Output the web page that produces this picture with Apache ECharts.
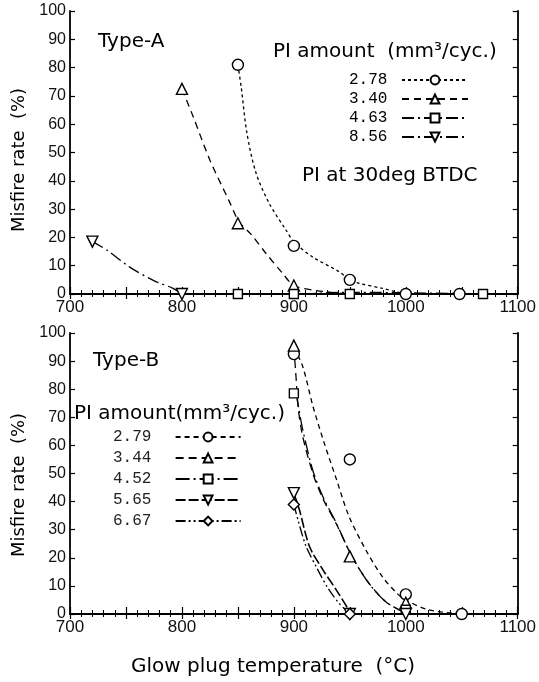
<!DOCTYPE html>
<html><head><meta charset="utf-8">
<script src="https://cdn.jsdelivr.net/npm/echarts@6/dist/echarts.min.js"></script>
<style>html,body{margin:0;padding:0;background:#fff}#c{width:539px;height:682px}</style>
</head><body><div id="c"></div>
<script>
// ---- axis ranges / ticks ----
const xMin = 700, xMax = 1100, xLabelStep = 100, xTickStep = 50;
const yMin = 0, yMax = 100, yStep = 10;

// ---- Type-A (top panel), PI amount (mm3/cyc.) ----
const topNames = ['2.78', '3.40', '4.63', '8.56'];
// measured points (markers)
const a278X = [850, 900, 950, 1000, 1048];
const a278Y = [81, 17, 5, 0, 0];
const a340X = [800, 850, 900];
const a340Y = [72.5, 25, 3];
const a463X = [850, 900, 950, 1069];
const a463Y = [0, 0, 0, 0];
const a856X = [720, 800];
const a856Y = [18.5, 0];
// fitted curves
const a278CurveX = [850, 853, 858, 866, 878, 893, 900, 917, 940, 950, 958, 979, 991, 1000];
const a278CurveY = [81, 73, 57, 43, 32, 22.6, 18.5, 13, 8, 5, 3.8, 2, 0.8, 0];
const a340CurveX = [800, 810, 825, 842, 851, 862, 875, 890, 900, 920, 950];
const a340CurveY = [72.5, 62.7, 47.3, 33, 25.5, 21, 14.4, 7.3, 3, 1.2, 0];
const a463CurveX = [850, 900, 950, 1069];
const a463CurveY = [0, 0, 0.6, 0];
const a856CurveX = [720, 733, 753, 774, 792, 800];
const a856CurveY = [18.5, 15.5, 9.6, 4.9, 2, 0];

// ---- Type-B (bottom panel) ----
const botNames = ['2.79', '3.44', '4.52', '5.65', '6.67'];
const b279X = [900, 950, 1000, 1050];
const b279Y = [92.5, 55, 7, 0];
const b344X = [900, 950, 1000];
const b344Y = [95.5, 20.5, 4];
const b452X = [900, 1000];
const b452Y = [78.5, 1.5];
const b565X = [900, 950, 1000];
const b565Y = [43, 0, 0];
const b667X = [900, 950];
const b667Y = [39, 0];
const b279CurveX = [900, 908, 917, 927, 938, 949, 964, 979, 992, 1000, 1020, 1050];
const b279CurveY = [95, 88, 74, 61, 48, 35, 23, 13.3, 7.4, 5, 1.5, 0];
const b344CurveX = [900, 902, 904, 908, 917, 926, 938, 952, 967, 982, 997, 1000];
const b344CurveY = [95, 84, 73, 63, 50, 41, 32, 20.4, 11, 4.4, 0.8, 0];
const b452CurveX = [902, 904, 908, 917, 926, 938, 952, 967, 982, 997, 1000];
const b452CurveY = [78.5, 74, 65.5, 51, 41.7, 32.3, 20.4, 10.9, 4.4, 0.8, 0];
const b565CurveX = [900, 905, 914, 926, 938, 949, 950];
const b565CurveY = [43, 37, 24, 15.7, 8.5, 1.4, 0];
const b667CurveX = [900, 904, 911, 920, 930, 940, 950];
const b667CurveY = [39, 33, 24, 16.8, 9.5, 4, 0];

const zip = (xs, ys) => xs.map((x, i) => [x, ys[i]]);
const DOWN_TRI = 'path://M0,0L20,0L10,18Z';
const FONT = 'DejaVu Sans';
const NUMFONT = 'Liberation Sans';

// one dataset = fitted curve (line) + measured points (markers), same legend name
function dataset(name, cx, cy, mx, my, symbol, size, dash, gi, width) {
  const ax = gi * 2;
  const item = { color: '#fff', borderColor: '#000', borderWidth: 1.4, opacity: 1 };
  return [
    { name, type: 'line', xAxisIndex: ax, yAxisIndex: ax, data: zip(cx, cy),
      smooth: 0.3, symbol, symbolSize: size, showSymbol: false,
      lineStyle: { color: '#000', width: width || 1.3, type: dash },
      itemStyle: item, emphasis: { disabled: true }, z: 2 },
    { name, type: 'scatter', xAxisIndex: ax, yAxisIndex: ax, data: zip(mx, my),
      symbol, symbolSize: size, itemStyle: item, emphasis: { disabled: true }, z: 4 }
  ];
}

function xAxes(gi) {
  const base = {
    type: 'value', gridIndex: gi, min: xMin, max: xMax, interval: xTickStep,
    axisLine: { show: true, lineStyle: { color: '#000', width: 1.8 } },
    axisTick: { show: true, inside: true, length: 7, lineStyle: { color: '#000', width: 1.2 } },
    minorTick: { show: true, splitNumber: 5, length: 4, lineStyle: { color: '#000', width: 1 } },
    splitLine: { show: false }
  };
  return [
    Object.assign({}, base, { position: 'bottom',
      axisLabel: { show: true, margin: 5, color: '#111', fontSize: 17, fontFamily: NUMFONT,
        formatter: v => (v % xLabelStep === 0 ? String(v) : '') } }),
    Object.assign({}, base, { position: 'top', axisLabel: { show: false },
      axisTick: { show: true, inside: true, length: 5, lineStyle: { color: '#000', width: 1.2 } },
      minorTick: { show: true, splitNumber: 5, length: 3, lineStyle: { color: '#000', width: 1 } } })
  ];
}
function yAxes(gi) {
  const base = {
    type: 'value', gridIndex: gi, min: yMin, max: yMax, interval: yStep,
    axisLine: { show: true, lineStyle: { color: '#000', width: 1.8 } },
    axisTick: { show: true, inside: true, length: 5, lineStyle: { color: '#000', width: 1.2 } },
    splitLine: { show: false }
  };
  return [
    Object.assign({}, base, { position: 'left',
      axisLabel: { show: true, margin: 4, color: '#111', fontSize: 16, fontFamily: NUMFONT } }),
    Object.assign({}, base, { position: 'right', axisLabel: { show: false } })
  ];
}

function txt(text, x, y, size, align) {
  return { type: 'text', x, y, silent: true,
    style: { text, font: size + 'px ' + FONT, fill: '#000', align: align || 'left', verticalAlign: 'middle' } };
}
function vtxt(text, x, y, size) {
  return { type: 'text', x, y, rotation: Math.PI / 2, silent: true,
    style: { text, font: size + 'px ' + FONT, fill: '#000', align: 'center', verticalAlign: 'middle' } };
}

const chart = echarts.init(document.getElementById('c'), null, { renderer: 'canvas' });
chart.setOption({
  backgroundColor: '#fff',
  animation: false,
  grid: [
    { left: 70, right: 20, top: 11, bottom: 388 },
    { left: 70, right: 19, top: 333, bottom: 68 }
  ],
  xAxis: [...xAxes(0), ...xAxes(1)],
  yAxis: [...yAxes(0), ...yAxes(1)],
  legend: [
    { data: topNames, orient: 'vertical', align: 'right', left: 344, top: 67,
      itemWidth: 66, itemHeight: 11, itemGap: 3, selectedMode: false,
      formatter: n => n + ' ',
      textStyle: { fontFamily: 'Liberation Mono', fontSize: 16, lineHeight: 16, color: '#000' } },
    { data: botNames, orient: 'vertical', align: 'right', left: 108, top: 424,
      itemWidth: 65, itemHeight: 11, itemGap: 5, selectedMode: false,
      formatter: n => n + '  ',
      textStyle: { fontFamily: 'Liberation Mono', fontSize: 16, lineHeight: 16, color: '#222' } }
  ],
  series: [
    ...dataset('2.78', a278CurveX, a278CurveY, a278X, a278Y, 'circle', 11, [3, 3], 0),
    ...dataset('3.40', a340CurveX, a340CurveY, a340X, a340Y, 'triangle', 11, [7, 5], 0),
    ...dataset('4.63', a463CurveX, a463CurveY, a463X, a463Y, 'rect', 9, [12, 4, 2, 4], 0),
    ...dataset('8.56', a856CurveX, a856CurveY, a856X, a856Y, DOWN_TRI, 11, [12, 4, 2, 4], 0),
    ...dataset('2.79', b279CurveX, b279CurveY, b279X, b279Y, 'circle', 11, [5, 4], 1),
    ...dataset('3.44', b344CurveX, b344CurveY, b344X, b344Y, 'triangle', 11, [8, 5], 1),
    ...dataset('4.52', b452CurveX, b452CurveY, b452X, b452Y, 'rect', 9, [14, 4, 2, 4], 1),
    ...dataset('5.65', b565CurveX, b565CurveY, b565X, b565Y, DOWN_TRI, 11, [10, 3], 1, 1.6),
    ...dataset('6.67', b667CurveX, b667CurveY, b667X, b667Y, 'diamond', 11, [10, 3, 2, 3, 2, 3], 1)
  ],
  graphic: [
    txt('Type-A', 98, 42, 20),
    txt('PI amount  (mm\u00b3/cyc.)', 273, 52, 20),
    txt('PI at 30deg BTDC', 302, 176, 20),
    txt('Type-B', 93, 361, 20),
    txt('PI amount(mm\u00b3/cyc.)', 74, 414, 20),
    vtxt('Misfire rate  (%)', 19, 160, 18),
    vtxt('Misfire rate  (%)', 19, 485, 18),
    txt('Glow plug temperature  (\u00b0C)', 273, 667, 20, 'center')
  ]
});
</script></body></html>
